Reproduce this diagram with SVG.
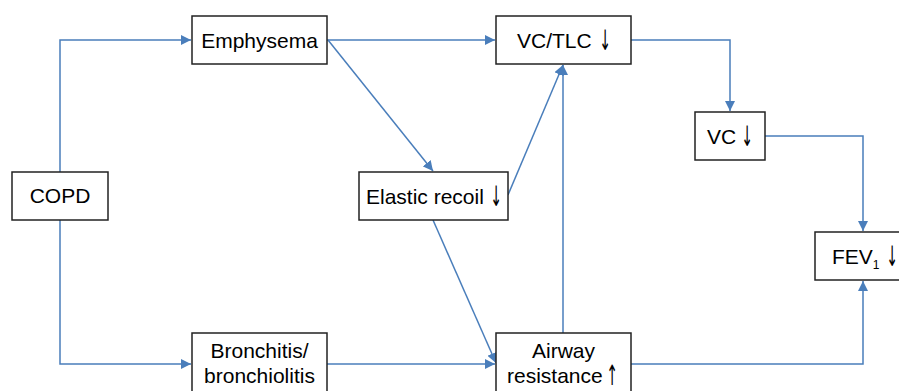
<svg xmlns="http://www.w3.org/2000/svg" width="899" height="391" viewBox="0 0 899 391">
<style>
.box{fill:#fff;stroke:#222;stroke-width:1.5}
.t{font-family:"Liberation Sans",Arial,sans-serif;font-size:21px;fill:#000;text-anchor:middle}
.s{text-anchor:start}
.ar{font-family:"DejaVu Sans",sans-serif;font-size:28px;fill:#000;text-anchor:middle}
.c{fill:none;stroke:#4a7ebb;stroke-width:1.5}
</style>
<defs>
<marker id="a" viewBox="0 0 10 10" refX="10" refY="5" markerWidth="10" markerHeight="10" markerUnits="userSpaceOnUse" orient="auto">
<path d="M0,0 L10,5 L0,10 Z" fill="#4a7ebb"/>
</marker>
</defs>
<rect width="899" height="391" fill="#fff"/>
<g id="connectors">
<path class="c" d="M60,172 V40 H191" marker-end="url(#a)"/>
<path class="c" d="M60,220 V364 H191" marker-end="url(#a)"/>
<path class="c" d="M327,40 H495" marker-end="url(#a)"/>
<path class="c" d="M328,40 L433,171" marker-end="url(#a)"/>
<path class="c" d="M508,195 L563,65" marker-end="url(#a)"/>
<path class="c" d="M563,333 V65" marker-end="url(#a)"/>
<path class="c" d="M433,220 L496,363" marker-end="url(#a)"/>
<path class="c" d="M327,364 H495" marker-end="url(#a)"/>
<path class="c" d="M631,40 H730 V111" marker-end="url(#a)"/>
<path class="c" d="M765,136 H863 V231" marker-end="url(#a)"/>
<path class="c" d="M631,364 H863 V281" marker-end="url(#a)"/>
</g>
<g id="copd"><rect class="box" x="12" y="172" width="96" height="48"/><text class="t" x="60" y="203">COPD</text></g>
<g id="emphysema"><rect class="box" x="192" y="16" width="135" height="48"/><text class="t" x="259.5" y="48">Emphysema</text></g>
<g id="vctlc"><rect class="box" x="496" y="16" width="135" height="48"/><text class="t s" x="517" y="48">VC/TLC</text><text class="ar" transform="translate(605,50) scale(0.5,1)">↓</text></g>
<g id="elastic"><rect class="box" x="359" y="172" width="149" height="48"/><text class="t s" x="366" y="204">Elastic recoil</text><text class="ar" transform="translate(496,206) scale(0.5,1)">↓</text></g>
<g id="vc"><rect class="box" x="695" y="112" width="70" height="48"/><text class="t s" x="707" y="144">VC</text><text class="ar" transform="translate(747,146) scale(0.5,1)">↓</text></g>
<g id="fev1"><rect class="box" x="815" y="232" width="100" height="48"/><text class="t s" x="832" y="264">FEV<tspan font-size="12" dy="5">1</tspan></text><text class="ar" transform="translate(892,266) scale(0.5,1)">↓</text></g>
<g id="bronchitis"><rect class="box" x="192" y="333" width="135" height="66"/><text class="t" x="259.5" y="358">Bronchitis/</text><text class="t" x="259.5" y="383">bronchiolitis</text></g>
<g id="airway"><rect class="box" x="496" y="333" width="135" height="66"/><text class="t" x="563.5" y="358">Airway</text><text class="t s" x="507" y="383">resistance</text><text class="ar" transform="translate(612,385) scale(0.5,1)">↑</text></g>
</svg>
